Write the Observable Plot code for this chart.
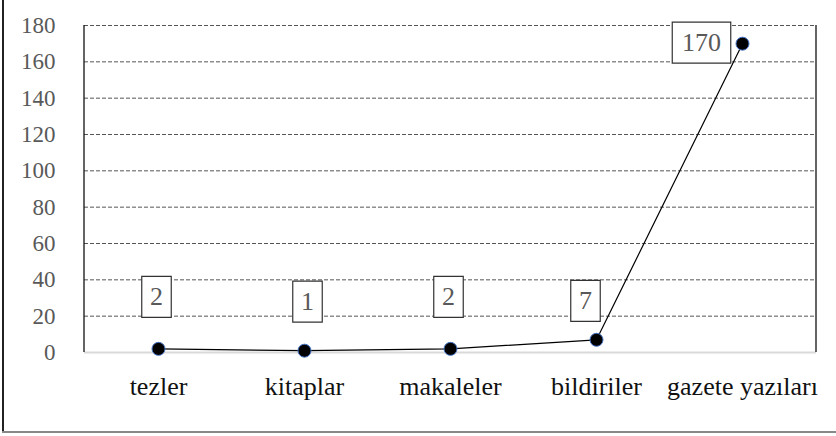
<!DOCTYPE html>
<html>
<head>
<meta charset="utf-8">
<script src="https://cdn.jsdelivr.net/npm/d3@7"></script>
<script src="https://cdn.jsdelivr.net/npm/@observablehq/plot@0.6"></script>
</head>
<body style="margin:0">
<script>
const categories = ["tezler", "kitaplar", "makaleler", "bildiriler", "gazete yazıları"];
const values = [2, 1, 2, 7, 170];
const yTicks = [0, 20, 40, 60, 80, 100, 120, 140, 160, 180];

const data = categories.map((c, i) => ({category: c, value: values[i], i, label: String(values[i])}));

const font = "Liberation Serif";

// boxed value labels: placement groups (styling only)
const groups = [
  {idx: [0, 2], dx: -2, dy: -52},
  {idx: [1], dx: 3, dy: -49},
  {idx: [3], dx: -11, dy: -39},
  {idx: [4], dx: -41, dy: -1}
];
const boxSymbol = (w, h) => ({draw(ctx) { ctx.rect(-w / 2, -h / 2, w, h); }});

const labelMarks = groups.flatMap(g => {
  const sub = data.filter(d => g.idx.includes(d.i));
  const w = Math.max(...sub.map(d => d.label.length)) * 14.5 + 15;
  return [
    Plot.dot(sub, {x: "category", y: "value", dx: g.dx, dy: g.dy, r: 10,
      symbol: boxSymbol(w, 41), fill: "#fff", stroke: "#333", strokeWidth: 1.2}),
    Plot.text(sub, {x: "category", y: "value", text: "label", dx: g.dx, dy: g.dy,
      fontSize: 26, fill: "#595959", fontFamily: font})
  ];
});

// plot-area side lines and the outer picture border (decoration)
const frameLines = (index, scales, values, dims) => {
  const g = d3.create("svg:g");
  const x1 = dims.marginLeft, x2 = dims.width - dims.marginRight;
  const y1 = dims.marginTop, y2 = dims.height - dims.marginBottom;
  for (const x of [x1, x2]) {
    g.append("line").attr("x1", x).attr("x2", x).attr("y1", y1).attr("y2", y2)
      .attr("stroke", "#111").attr("stroke-width", 1.3);
  }
  g.append("line").attr("x1", 3).attr("x2", 3).attr("y1", 0).attr("y2", dims.height - 4)
    .attr("stroke", "#222").attr("stroke-width", 2);
  g.append("line").attr("x1", 2).attr("x2", dims.width).attr("y1", dims.height - 4).attr("y2", dims.height - 4)
    .attr("stroke", "#888").attr("stroke-width", 2);
  return g.node();
};

const chart = Plot.plot({
  width: 836,
  height: 436,
  marginLeft: 84,
  marginRight: 20,
  marginTop: 25,
  marginBottom: 84,
  x: {type: "point", domain: categories, padding: 0.5, label: null},
  y: {domain: [0, 180], label: null},
  marks: [
    Plot.ruleY(yTicks.filter(t => t > 0), {stroke: "#555", strokeWidth: 1, strokeDasharray: "4,2"}),
    Plot.ruleY([0], {stroke: "#d9d9d9", strokeWidth: 2}),
    frameLines,
    Plot.axisY({ticks: yTicks, tickSize: 0, tickPadding: 29, fontSize: 23, fill: "#595959", fontFamily: font, tickFormat: d => String(d)}),
    Plot.axisX({tickSize: 0, tickPadding: 24, fontSize: 26, fill: "#111", fontFamily: font}),
    Plot.line(data, {x: "category", y: "value", stroke: "#000", strokeWidth: 1.2}),
    Plot.dot(data, {x: "category", y: "value", r: 6.5, fill: "#000", stroke: "#4472c4", strokeWidth: 1}),
    ...labelMarks
  ]
});

chart.setAttribute("font-family", font);
document.body.append(chart);
d3.select(chart).selectAll("g, text").each(function() {
  this.setAttribute("font-family", font);
  this.style.fontFamily = "'" + font + "'";
});
</script>
</body>
</html>
